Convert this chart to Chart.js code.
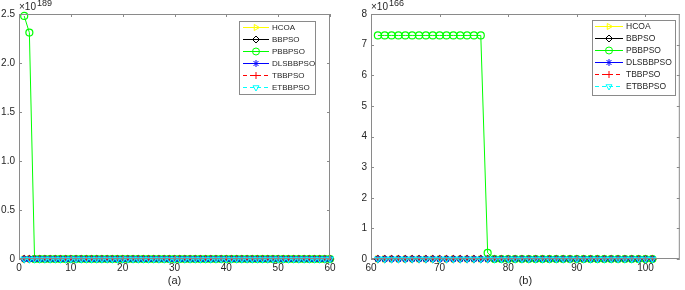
<!DOCTYPE html>
<html>
<head>
<meta charset="utf-8">
<script src="https://cdn.jsdelivr.net/npm/chart.js@4.4.1/dist/chart.umd.min.js"></script>
<style>
  html, body { margin: 0; padding: 0; background: #fff; }
  .panel { position: absolute; top: 0; }
</style>
</head>
<body>
<div class="panel" style="left:0"><canvas id="chartA" width="342" height="290"></canvas></div>
<div class="panel" style="left:342px"><canvas id="chartB" width="343" height="290"></canvas></div>
<script>
var nombres = ['HCOA', 'BBPSO', 'PBBPSO', 'DLSBBPSO', 'TBBPSO', 'ETBBPSO'];
var colores = ['#ffff00', '#000000', '#00ff00', '#0000ff', '#ff0000', '#00ffff'];
var marcadores = ['triangle', 'rectRot', 'circle', 'star', 'cross', 'triangle'];
var rotaciones = [90, 0, 0, 0, 0, 180];
var guiones = [[], [], [], [], [4, 3], [4, 3]];

// (a) iteraciones 1-60, valores en unidades de 1e189
var expA = 189;
var iterA = [1,2,3,4,5,6,7,8,9,10,11,12,13,14,15,16,17,18,19,20,21,22,23,24,25,26,27,28,29,30,
  31,32,33,34,35,36,37,38,39,40,41,42,43,44,45,46,47,48,49,50,51,52,53,54,55,56,57,58,59,60];
var hcoaA = [0,0,0,0,0,0,0,0,0,0,0,0,0,0,0,0,0,0,0,0,0,0,0,0,0,0,0,0,0,0,0,0,0,0,0,0,0,0,0,0,0,0,0,0,0,0,0,0,0,0,0,0,0,0,0,0,0,0,0,0];
var bbpsoA = [0,0,0,0,0,0,0,0,0,0,0,0,0,0,0,0,0,0,0,0,0,0,0,0,0,0,0,0,0,0,0,0,0,0,0,0,0,0,0,0,0,0,0,0,0,0,0,0,0,0,0,0,0,0,0,0,0,0,0,0];
var pbbpsoA = [2.48,2.31,0,0,0,0,0,0,0,0,0,0,0,0,0,0,0,0,0,0,0,0,0,0,0,0,0,0,0,0,0,0,0,0,0,0,0,0,0,0,0,0,0,0,0,0,0,0,0,0,0,0,0,0,0,0,0,0,0,0];
var dlsbbpsoA = [0,0,0,0,0,0,0,0,0,0,0,0,0,0,0,0,0,0,0,0,0,0,0,0,0,0,0,0,0,0,0,0,0,0,0,0,0,0,0,0,0,0,0,0,0,0,0,0,0,0,0,0,0,0,0,0,0,0,0,0];
var tbbpsoA = [0,0,0,0,0,0,0,0,0,0,0,0,0,0,0,0,0,0,0,0,0,0,0,0,0,0,0,0,0,0,0,0,0,0,0,0,0,0,0,0,0,0,0,0,0,0,0,0,0,0,0,0,0,0,0,0,0,0,0,0];
var etbbpsoA = [0,0,0,0,0,0,0,0,0,0,0,0,0,0,0,0,0,0,0,0,0,0,0,0,0,0,0,0,0,0,0,0,0,0,0,0,0,0,0,0,0,0,0,0,0,0,0,0,0,0,0,0,0,0,0,0,0,0,0,0];
var ticksYA = [0, 0.5, 1, 1.5, 2, 2.5];

// (b) iteraciones 61-101, valores en unidades de 1e166
var expB = 166;
var iterB = [61,62,63,64,65,66,67,68,69,70,71,72,73,74,75,76,77,78,79,80,81,
  82,83,84,85,86,87,88,89,90,91,92,93,94,95,96,97,98,99,100,101];
var hcoaB = [0,0,0,0,0,0,0,0,0,0,0,0,0,0,0,0,0,0,0,0,0,0,0,0,0,0,0,0,0,0,0,0,0,0,0,0,0,0,0,0,0];
var bbpsoB = [0,0,0,0,0,0,0,0,0,0,0,0,0,0,0,0,0,0,0,0,0,0,0,0,0,0,0,0,0,0,0,0,0,0,0,0,0,0,0,0,0];
var pbbpsoB = [7.3,7.3,7.3,7.3,7.3,7.3,7.3,7.3,7.3,7.3,7.3,7.3,7.3,7.3,7.3,7.3,0.2,0,0,0,0,0,0,0,0,0,0,0,0,0,0,0,0,0,0,0,0,0,0,0,0];
var dlsbbpsoB = [0,0,0,0,0,0,0,0,0,0,0,0,0,0,0,0,0,0,0,0,0,0,0,0,0,0,0,0,0,0,0,0,0,0,0,0,0,0,0,0,0];
var tbbpsoB = [0,0,0,0,0,0,0,0,0,0,0,0,0,0,0,0,0,0,0,0,0,0,0,0,0,0,0,0,0,0,0,0,0,0,0,0,0,0,0,0,0];
var etbbpsoB = [0,0,0,0,0,0,0,0,0,0,0,0,0,0,0,0,0,0,0,0,0,0,0,0,0,0,0,0,0,0,0,0,0,0,0,0,0,0,0,0,0];
var ticksYB = [0, 1, 2, 3, 4, 5, 6, 7, 8];

var colorTexto = '#262626';
var colorEje = '#8a8a8a';
Chart.defaults.font.family = '"Liberation Sans", Arial, sans-serif';
Chart.defaults.color = colorTexto;

function serie(xs, ys, i) {
  return {
    label: nombres[i],
    data: xs.map(function (x, k) { return { x: x, y: ys[k] }; }),
    borderColor: colores[i],
    backgroundColor: 'rgba(0,0,0,0)',
    pointBorderColor: colores[i],
    pointBackgroundColor: 'rgba(0,0,0,0)',
    pointStyle: marcadores[i],
    pointRotation: rotaciones[i],
    pointRadius: 3.5,
    pointBorderWidth: 1.2,
    borderWidth: 1,
    borderDash: guiones[i],
    tension: 0,
    clip: false,
    order: 6 - i
  };
}

// caja, marcas hacia dentro, exponente y leyenda al estilo MATLAB
var estiloMatlab = {
  id: 'estiloMatlab',
  afterDraw: function (chart, args, o) {
    var ctx = chart.ctx, a = chart.chartArea;
    var sx = chart.scales.x, sy = chart.scales.y;
    ctx.save();
    ctx.strokeStyle = colorEje;
    ctx.lineWidth = 1;
    ctx.strokeRect(a.left + 0.5, a.top + 0.5, a.right - a.left - 1, a.bottom - a.top - 1);
    ctx.beginPath();
    sx.ticks.forEach(function (t) {
      var px = Math.round(sx.getPixelForValue(t.value)) + 0.5;
      ctx.moveTo(px, a.bottom); ctx.lineTo(px, a.bottom - 3);
      ctx.moveTo(px, a.top); ctx.lineTo(px, a.top + 3);
    });
    sy.ticks.forEach(function (t) {
      var py = Math.round(sy.getPixelForValue(t.value)) + 0.5;
      ctx.moveTo(a.left, py); ctx.lineTo(a.left + 3, py);
      ctx.moveTo(a.right, py); ctx.lineTo(a.right - 3, py);
    });
    ctx.stroke();

    // exponente
    ctx.fillStyle = colorTexto;
    ctx.textBaseline = 'alphabetic';
    ctx.textAlign = 'left';
    ctx.font = '10px "Liberation Sans", Arial, sans-serif';
    ctx.fillText('\u00d710', a.left, 10);
    var w = ctx.measureText('\u00d710').width;
    ctx.font = '9px "Liberation Sans", Arial, sans-serif';
    ctx.fillText(String(o.exp), a.left + w + 1, 6);

    // leyenda
    var L = o.leyenda;
    ctx.fillStyle = '#ffffff';
    ctx.fillRect(L.x, L.y, L.w, L.h);
    ctx.strokeStyle = colorEje;
    ctx.strokeRect(L.x + 0.5, L.y + 0.5, L.w, L.h);
    ctx.font = L.fuente + 'px "Liberation Sans", Arial, sans-serif';
    ctx.textBaseline = 'middle';
    nombres.forEach(function (n, i) {
      var yy = L.y + 6.5 + i * 12;
      ctx.strokeStyle = colores[i];
      ctx.lineWidth = 1;
      ctx.setLineDash(guiones[i]);
      ctx.beginPath();
      ctx.moveTo(L.x + L.l1, yy); ctx.lineTo(L.x + L.l2, yy);
      ctx.stroke();
      ctx.setLineDash([]);
      ctx.fillStyle = 'rgba(0,0,0,0)';
      Chart.helpers.drawPoint(ctx, { pointStyle: marcadores[i], rotation: rotaciones[i], radius: 3.5, borderWidth: 1 },
        L.x + (L.l1 + L.l2) / 2, yy);
      ctx.fillStyle = colorTexto;
      ctx.fillText(n, L.x + L.tx, yy + 0.5);
    });
    ctx.restore();
  }
};

function crear(id, xs, series, cfg) {
  var datasets = series.map(function (ys, i) { return serie(xs, ys, i); });
  return new Chart(document.getElementById(id), {
    type: 'line',
    data: { datasets: datasets },
    plugins: [estiloMatlab],
    options: {
      responsive: false,
      animation: false,
      devicePixelRatio: 1,
      layout: { padding: { top: 14, right: cfg.padDer, left: 0, bottom: 0 } },
      plugins: {
        legend: { display: false },
        tooltip: { enabled: false },
        estiloMatlab: { exp: cfg.exp, leyenda: cfg.leyenda }
      },
      scales: {
        x: {
          type: 'linear',
          min: cfg.xMin, max: cfg.xMax,
          grid: { display: false, drawTicks: false },
          border: { display: false },
          ticks: { stepSize: 10, padding: 3, maxRotation: 0, font: { size: 10 }, color: colorTexto },
          afterBuildTicks: function (s) { s.ticks = s.ticks.filter(function (t) { return t.value <= cfg.xTickMax; }); },
          afterFit: function (s) { s.height = 31; },
          title: { display: true, text: cfg.titulo, font: { size: 11 }, color: colorTexto, padding: { top: 0, bottom: 2 } }
        },
        y: {
          type: 'linear',
          min: cfg.yTicks[0], max: cfg.yTicks[cfg.yTicks.length - 1],
          grid: { display: false, drawTicks: false },
          border: { display: false },
          afterBuildTicks: function (s) { s.ticks = cfg.yTicks.map(function (v) { return { value: v }; }); },
          ticks: { padding: 4, font: { size: 10 }, color: colorTexto },
          afterFit: function (s) { s.width = cfg.anchoY; }
        }
      }
    }
  });
}

crear('chartA', iterA, [hcoaA, bbpsoA, pbbpsoA, dlsbbpsoA, tbbpsoA, etbbpsoA], {
  exp: expA, xMin: 0, xMax: 60, xTickMax: 60, yTicks: ticksYA, anchoY: 19, padDer: 12, titulo: '(a)',
  leyenda: { x: 239, y: 21, w: 76, h: 73, l1: 4, l2: 30, tx: 33, fuente: 8 }
});
crear('chartB', iterB, [hcoaB, bbpsoB, pbbpsoB, dlsbbpsoB, tbbpsoB, etbbpsoB], {
  exp: expB, xMin: 60, xMax: 105, xTickMax: 100, yTicks: ticksYB, anchoY: 29, padDer: 2, titulo: '(b)',
  leyenda: { x: 250, y: 20, w: 83, h: 75, l1: 3, l2: 31, tx: 34, fuente: 8.5 }
});
</script>
</body>
</html>
